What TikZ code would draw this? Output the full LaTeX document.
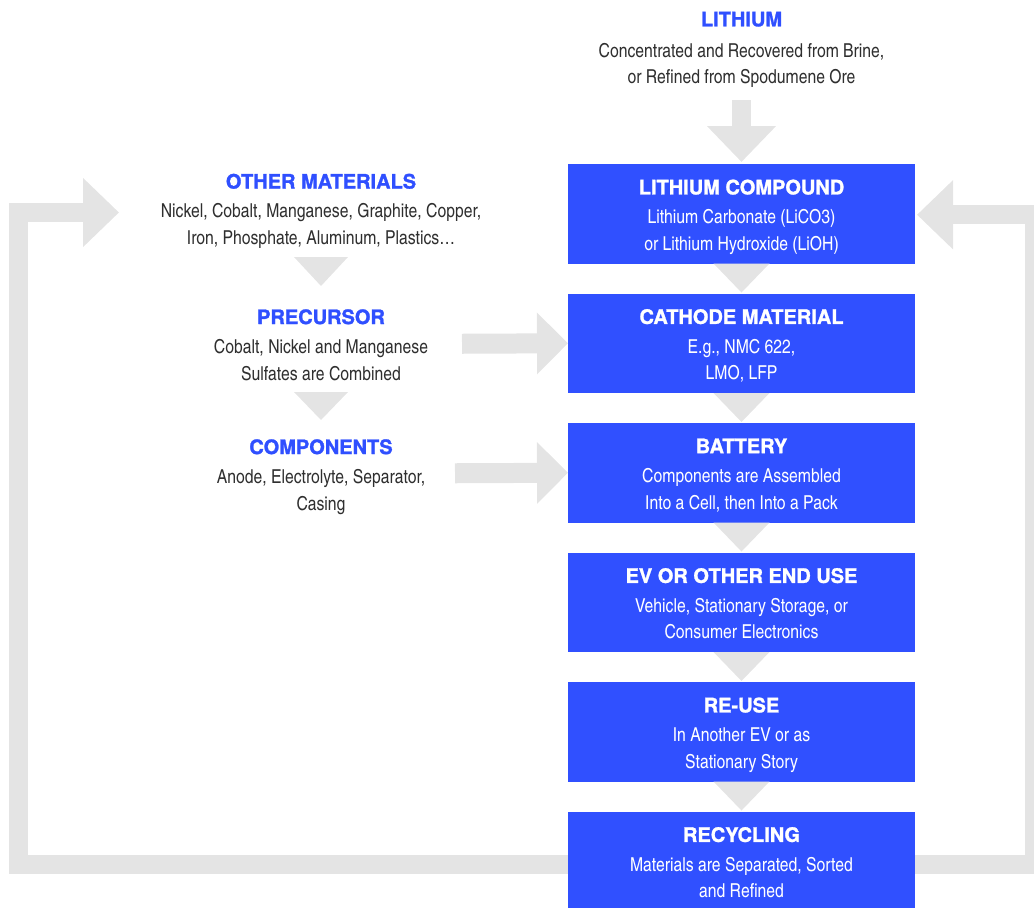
\documentclass[tikz,border=0pt]{standalone}
\usepackage{fontspec}
\setmainfont{TeX Gyre Heros}
\newfontfamily\titlefont{TeX Gyre Heros}[BoldFeatures={FakeBold=1.3}]
\newfontfamily\condfont{texgyreheroscn}[Extension=.otf, UprightFont=*-regular, BoldFont=*-bold]
\usetikzlibrary{positioning,calc,arrows.meta,backgrounds}

\definecolor{boxblue}{HTML}{3050FF}
\definecolor{titleblue}{HTML}{2F4FFF}
\definecolor{bodygray}{HTML}{2F2F2F}
\definecolor{arrowgray}{HTML}{E4E4E4}

\newcommand{\stagetitle}[1]{{\titlefont\bfseries\fontsize{15}{20}\selectfont #1}}
\newcommand{\sidetitle}[1]{{\color{titleblue}\stagetitle{#1}}}

\tikzset{
  stagebox/.style={fill=boxblue, minimum width=260.25pt, minimum height=74.625pt,
    inner sep=0pt, outer sep=0pt},
  stagetext/.style={text=white, align=center, inner sep=0pt, anchor=north,
    font=\condfont\fontsize{14.4}{20}\selectfont},
  sidetext/.style={stagetext, text=bodygray},
  bigarrow/.style={draw=arrowgray, line width=14.25pt, line join=miter,
    -{Triangle[width=50.25pt,length=27pt]}},
  feedarrow/.style={draw=arrowgray, line width=15pt,
    -{Triangle[width=45pt,length=23.25pt]}},
  droptri/.style={fill=arrowgray}
}

\begin{document}
\begin{tikzpicture}[x=0.75pt,y=0.75pt,yscale=-1,xscale=1]
  \useasboundingbox (0,0) rectangle (1034,907);

  % main chain
  \node[stagebox] (compound) at (741.5,213.75) {};
  \node[stagebox, below=22.5pt of compound] (cathode) {};
  \node[stagebox, below=22.5pt of cathode] (battery) {};
  \node[stagebox, below=22.5pt of battery] (enduse) {};
  \node[stagebox, below=22.5pt of enduse] (reuse) {};
  \node[stagebox, below=22.5pt of reuse] (recycling) {};

  \node[stagetext, below=11.5pt of compound.north] (compound-text)
    {\stagetitle{LITHIUM COMPOUND}\\[2pt] Lithium Carbonate (LiCO3)\\ or Lithium Hydroxide (LiOH)};
  \node[stagetext, below=11.5pt of cathode.north] (cathode-text)
    {\stagetitle{CATHODE MATERIAL}\\[2pt] E.g., NMC 622,\\ LMO, LFP};
  \node[stagetext, below=11.5pt of battery.north] (battery-text)
    {\stagetitle{BATTERY}\\[2pt] Components are Assembled\\ Into a Cell, then Into a Pack};
  \node[stagetext, below=11.5pt of enduse.north] (enduse-text)
    {\stagetitle{EV OR OTHER END USE}\\[2pt] Vehicle, Stationary Storage, or\\ Consumer Electronics};
  \node[stagetext, below=11.5pt of reuse.north] (reuse-text)
    {\stagetitle{RE-USE}\\[2pt] In Another EV or as\\ Stationary Story};
  \node[stagetext, below=11.5pt of recycling.north] (recycling-text)
    {\stagetitle{RECYCLING}\\[2pt] Materials are Separated, Sorted\\ and Refined};

  % inputs
  \node[sidetext] (lithium) at (741.5,11.5)
    {\sidetitle{LITHIUM}\\[3pt] Concentrated and Recovered from Brine,\\ or Refined from Spodumene Ore};
  \node[sidetext] (other) at (321,173.5)
    {\sidetitle{OTHER MATERIALS}\\[2pt] Nickel, Cobalt, Manganese, Graphite, Copper,\\ Iron, Phosphate, Aluminum, Plastics…};
  \node[sidetext] (precursor) at (321,309)
    {\sidetitle{PRECURSOR}\\[2pt] Cobalt, Nickel and Manganese\\ Sulfates are Combined};
  \node[sidetext] (components) at (321,439)
    {\sidetitle{COMPONENTS}\\[2pt] Anode, Electrolyte, Separator,\\ Casing};

  \coordinate (lithium-out) at (741.5,100);
  \coordinate (precursor-out) at (462,343.75);
  \coordinate (components-out) at (455,473.25);
  \coordinate (other-in) at (119,212.5);

  % arrows
  \draw[bigarrow] (lithium-out) -- ($(compound.north)+(0,-2)$);
  \draw[feedarrow] (precursor-out) -- (cathode.west);
  \draw[feedarrow] (components-out) -- (battery.west);

  \foreach \a/\b in {compound/cathode, cathode/battery, battery/enduse, enduse/reuse, reuse/recycling}
    \fill[droptri] ($(\a.south)+(-28,0)$) -- ($(\a.south)+(28,0)$) -- ($(\b.north)+(0,-1)$) -- cycle;

  \fill[droptri] (294,257) -- (348,257) -- (321,286) -- cycle;
  \fill[droptri] (294,392) -- (348,392) -- (321,420) -- cycle;

  % recycling loop
  \begin{scope}[on background layer]
    \draw[bigarrow] ($(recycling.west)+(5,3)$) -- ++(-555,0) |- (other-in);
    \draw[bigarrow] ($(recycling.east)+(-5,3)$) -- ++(124.5,0) |- ($(compound.east)+(2,1)$);
  \end{scope}
\end{tikzpicture}
\end{document}
